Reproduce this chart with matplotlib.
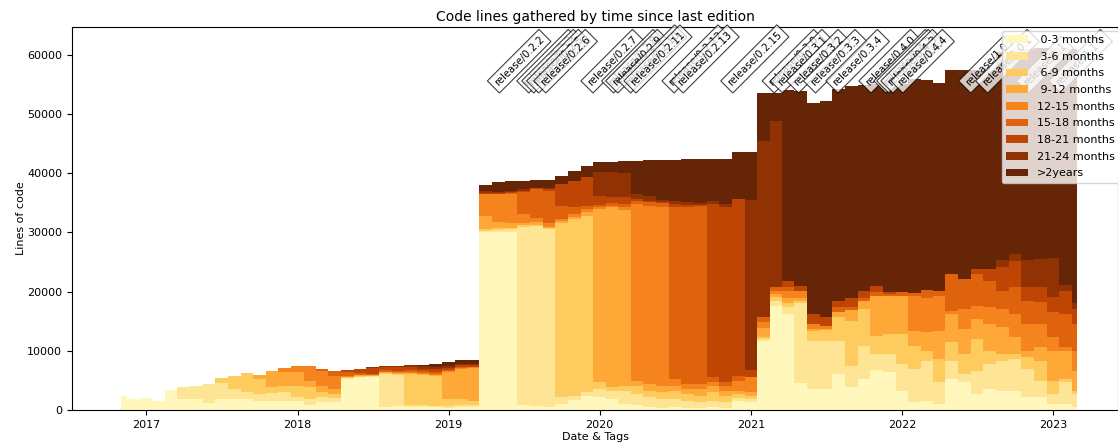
import matplotlib
matplotlib.use("Agg")
import matplotlib.pyplot as plt
import pandas as pd
import numpy as np

# monthly sampling points
dates = pd.date_range("2016-11-01", "2023-03-01", freq="MS")

labels = [" 0-3 months", " 3-6 months", " 6-9 months", " 9-12 months",
          "12-15 months", "15-18 months", "18-21 months", "21-24 months", ">2years"]

m0_3 = [2420,1800,2050,1500,3430,1860,1860,1130,1860,1860,1860,1580,1580,1460,1580,850,1290,1290,
        5240,5520,5520,450,730,450,450,450,400,500,550,30010,30010,30010,900,730,450,1010,1690,2420,
        2140,1860,1010,900,450,340,450,340,340,450,340,1460,1290,11700,17620,16210,4500,3550,3550,
        6080,3830,5240,6760,6360,3270,1290,1580,1010,5240,4670,2700,3550,3270,3270,2140,2140,1010,1010,450]
m3_6 = [0,0,0,0,0,1970,2250,3260,2640,1690,1120,1120,1240,1520,560,1010,850,680,150,100,150,5630,5180,
        400,400,300,300,400,300,300,400,500,30070,30400,30120,1130,730,560,1410,1410,2260,1800,1690,1520,
        1410,1240,960,1130,960,560,560,300,840,1130,13520,8160,8160,5630,3660,5630,2700,3100,4500,5630,
        6760,3660,3100,1410,3940,4220,5070,5350,4790,2820,1690,3660,2250]
m6_9 = [0,0,0,0,0,0,0,0,900,2250,3210,2540,1010,1130,1860,1970,850,730,150,150,100,200,150,5230,5060,
        4940,1160,960,730,260,300,300,200,100,150,29390,29840,29840,1120,560,840,1410,1130,1120,1410,1130,
        1130,1410,1130,680,560,400,560,680,340,1580,1770,3940,7490,6190,3100,3380,5070,3940,1690,3940,3100,
        3380,5350,2250,1130,840,1970,3380,2250,560,560]
m9_12 = [0,0,0,0,0,0,0,0,0,0,0,670,2700,2300,2360,1130,1130,850,100,100,100,100,150,200,200,300,4610,
         5060,5460,2250,1130,800,400,450,250,450,390,570,29280,30400,29670,840,1120,1130,840,840,1130,1130,
         840,560,560,1400,560,900,560,390,200,840,1910,1410,6760,6470,6470,2530,3100,4790,4790,4220,3380,
         4500,4500,2820,1130,2250,5070,4790,3380]
m12_15 = [0,0,0,0,0,0,0,0,0,0,0,0,0,680,1130,2420,2530,2140,150,100,100,100,150,150,150,150,150,150,150,
          3660,4670,4800,1600,700,700,280,450,560,280,280,450,29840,30120,30120,1130,840,840,560,840,1690,
          2530,1100,560,1240,1240,840,560,0,0,0,0,0,0,5910,5800,5910,560,3380,2250,2820,3100,3940,4500,
          3940,2250,560,3380]
m15_18 = [0,0,0,0,0,0,0,0,0,0,0,0,0,0,0,0,280,960,560,300,150,200,300,300,250,250,200,150,150,0,0,200,
          3700,4950,5380,2250,1130,560,450,400,560,560,570,700,29110,29840,30110,840,560,840,0,800,560,560,
          0,0,0,840,450,450,560,280,560,450,1350,730,6190,5070,5350,4500,3100,4500,3940,3660,4220,5630,4500]
m18_21 = [0,0,0,0,0,0,0,0,0,0,0,0,0,0,0,0,0,0,450,650,900,500,600,600,500,500,250,300,250,250,200,200,
          200,100,200,3660,4500,4790,1520,1010,1130,280,280,150,450,440,200,29280,29560,29840,1240,0,0,
          1130,840,1690,1410,1130,1580,1240,1130,280,0,0,0,0,0,0,840,1970,3940,4500,2250,2530,2530,3940,2530]
m21_24 = [0,0,0,0,0,0,0,0,0,0,0,0,0,0,0,0,0,0,0,0,180,200,230,270,350,450,400,300,200,200,190,200,200,
          100,200,0,0,0,3940,4220,4050,840,840,390,560,400,200,560,560,0,28710,29730,28150,0,0,0,0,0,0,0,
          0,0,0,0,0,0,0,0,0,0,1240,1130,4620,4730,6640,1010,960]
m24p = [0,0,0,0,0,0,0,0,0,0,0,0,0,0,0,0,0,0,0,0,0,0,0,0,300,430,580,680,660,1130,1670,1610,1400,1320,
        1400,1300,1690,1970,1690,1800,2030,5630,6020,6750,6860,7320,7490,7030,7600,7880,8050,8110,4670,
        32160,32900,35640,36600,35750,35860,34800,34060,35080,35190,36150,35470,35130,34460,35300,33620,
        33620,35160,34650,35660,35750,35540,40040,42990]

series = [m0_3, m3_6, m6_9, m9_12, m12_15, m15_18, m18_21, m21_24, m24p]

tag_names = ["release/0.2.2", "release/0.2.3", "release/0.2.4", "release/0.2.5", "release/0.2.6",
             "release/0.2.7", "release/0.2.8", "release/0.2.9", "release/0.2.10", "release/0.2.11",
             "release/0.2.12", "release/0.2.13", "release/0.2.15", "release/0.3.0", "release/0.3.1",
             "release/0.3.2", "release/0.3.3", "release/0.3.4", "release/0.4.0", "release/0.4.1",
             "release/0.4.2", "release/0.4.3", "release/0.4.4", "release/1.0", "release/1.0.1",
             "release/1.1", "release/1.1.1"]
tag_dates = ["2019-04-17", "2019-06-27", "2019-07-09", "2019-07-21", "2019-08-07",
             "2019-11-29", "2020-01-18", "2020-01-28", "2020-02-28", "2020-03-12",
             "2020-06-12", "2020-07-04", "2020-11-01", "2021-02-09", "2021-03-01",
             "2021-04-09", "2021-05-20", "2021-07-13", "2021-10-01", "2021-11-06",
             "2021-11-13", "2021-11-23", "2021-12-17", "2022-05-30", "2022-07-10",
             "2022-10-17", "2023-01-03"]

colors = plt.cm.YlOrBr(np.linspace(0.125, 1.0, 9))

fig = plt.figure(figsize=(11.18, 4.45), dpi=100)
ax = fig.add_axes([72/1118, 35/445, (1118-72)/1118, (410-27)/445])

ax.stackplot(dates, np.array(series), labels=labels, colors=colors, step="mid", linewidth=0)

for name, d in zip(tag_names, tag_dates):
    ax.text(pd.Timestamp(d), 54400, name, rotation=45, ha="left", va="bottom", fontsize=7.3,
            bbox=dict(boxstyle="square,pad=0.35", facecolor="white", edgecolor="black",
                      linewidth=0.8, alpha=0.75), zorder=3)

ax.set_xlim(pd.Timestamp("2016-07-05"), pd.Timestamp("2023-06-07"))
ax.set_ylim(0, 64700)
ax.set_title("Code lines gathered by time since last edition", fontsize=10, pad=4)
ax.set_xlabel("Date & Tags", fontsize=8, labelpad=2)
ax.set_ylabel("Lines of code", fontsize=8, labelpad=1)
ax.tick_params(labelsize=8)
leg = ax.legend(loc="upper right", fontsize=8, framealpha=0.8, labelspacing=0.6,
                bbox_to_anchor=(1.0 + 7/1046, 1.0 + 2/383))
leg.set_zorder(5)

fig.savefig("out.png", dpi=100)
